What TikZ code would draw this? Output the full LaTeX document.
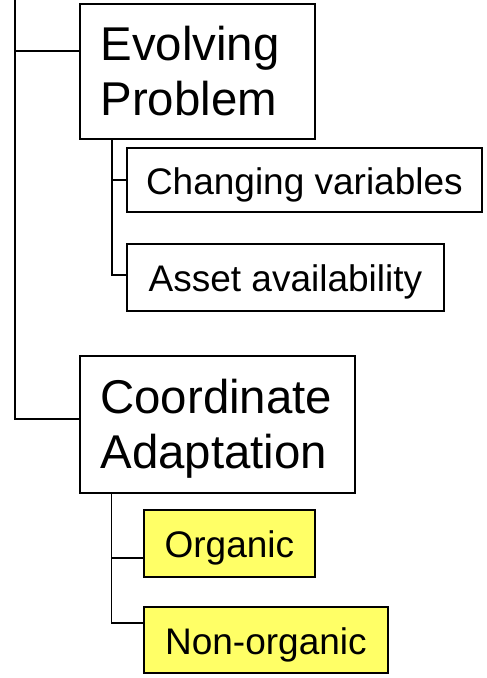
\documentclass[tikz,border=0pt]{standalone}
\usepackage{fontspec}
\setmainfont{Liberation Sans}
\definecolor{noteyellow}{RGB}{255,255,102}
\begin{document}
\begin{tikzpicture}[x=1pt,y=-1pt,
  conn/.style={draw=black,line width=1.8pt},
  bigbox/.style={draw=black,line width=1.8pt,fill=white,anchor=north west,
    inner xsep=20.5pt,inner ysep=0pt,align=left,
    font=\fontsize{47.4}{55}\selectfont,text height=34pt,text depth=55pt},
  smallbox/.style={draw=black,line width=1.8pt,fill=white,anchor=north west,
    inner sep=0pt,align=center,
    font=\fontsize{37}{44}\selectfont,text height=29pt,text depth=0pt},
  hilite/.style={fill=noteyellow}]
\useasboundingbox (0,0) rectangle (487,678);

% top-level items
\node[bigbox,text width=194pt,minimum width=235pt,minimum height=135pt] (ev) at (79,3) {Evolving\\Problem};
\node[bigbox,text width=234pt,minimum width=275pt,minimum height=137pt] (ca) at (79,355) {Coordinate\\Adaptation};

% second-level items
\node[smallbox,minimum width=355pt,minimum height=64pt] (cv) at (126,147) {Changing variables};
\node[smallbox,minimum width=317pt,minimum height=67pt] (av) at (126,243) {Asset availability};
\node[smallbox,hilite,minimum width=171pt,minimum height=67pt] (org) at (143,509) {Organic};
\node[smallbox,hilite,minimum width=244pt,minimum height=66pt] (non) at (143,606) {Non-organic};

% main trunk
\coordinate (top) at (15,-2);
\coordinate (evin) at ([yshift=20.5pt]ev.west);
\coordinate (cain) at ([yshift=5.5pt]ca.west);
\draw[conn] (top) |- (cain);
\draw[conn] (evin -| top) -- (evin);

% branches under Evolving Problem
\coordinate (evstem) at ([xshift=33pt]ev.south west);
\coordinate (avin) at ([yshift=2.5pt]av.west);
\draw[conn] (evstem) |- (avin);
\draw[conn] (cv.west -| evstem) -- (cv.west);

% branches under Coordinate Adaptation
\coordinate (castem) at ([xshift=32.5pt]ca.south west);
\coordinate (orgin) at ([yshift=-14.5pt]org.west);
\coordinate (nonin) at ([yshift=17pt]non.west);
\draw[conn] (castem) |- (nonin);
\draw[conn] (orgin -| castem) -- (orgin);
\end{tikzpicture}
\end{document}
